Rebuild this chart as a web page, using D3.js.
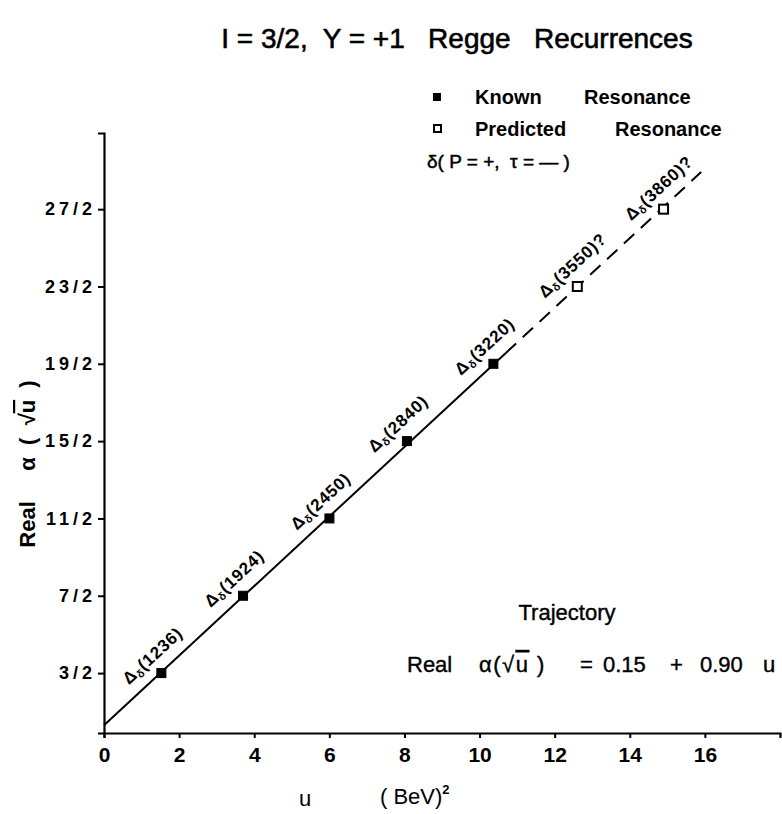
<!DOCTYPE html>
<html>
<head>
<meta charset="utf-8">
<script src="https://cdn.jsdelivr.net/npm/d3@7"></script>
<style>
  html, body { margin: 0; padding: 0; background: #fff; }
  svg { display: block; font-family: "Liberation Sans", Arial, sans-serif; }
  .ovl { text-decoration: overline; }
</style>
</head>
<body>
<div id="chart"></div>
<script>
// Δδ resonances on the I = 3/2, Y = +1 trajectory
const massesMeV = [1236, 1924, 2450, 2840, 3220, 3550, 3860];
const spins     = [1.5, 3.5, 5.5, 7.5, 9.5, 11.5, 13.5];
const known     = [true, true, true, true, true, false, false];

// Linear trajectory Real α = a + b·u
const intercept = 0.15;
const slope = 0.90;
const solidRange  = [0, 10.7];
const dashedRange = [10.7, 15.9];

// Axis ticks
const xTicks = [0, 2, 4, 6, 8, 10, 12, 14, 16];
const yTicks = [1.5, 3.5, 5.5, 7.5, 9.5, 11.5, 13.5];
const yTickLabels = ["3/2", "7/2", "11/2", "15/2", "19/2", "23/2", "27/2"];

const W = 782, H = 814;
const svg = d3.select("#chart").append("svg").attr("width", W).attr("height", H);

const x = d3.scaleLinear().domain([0, 18]).range([104, 780]);
const y = d3.scaleLinear().domain([-0.05, 15.47]).range([733, 133]);

const ink = "#000";

// Title
svg.append("text")
  .attr("x", 457).attr("y", 48)
  .attr("text-anchor", "middle")
  .attr("font-size", 28)
  .attr("fill", ink).attr("stroke", ink).attr("stroke-width", 0.6)
  .attr("xml:space", "preserve")
  .text("I = 3/2,  Y = +1   Regge   Recurrences");

// Axes
const xAxis = d3.axisBottom(x).tickValues(xTicks).tickSize(5).tickFormat(d3.format("d"));
const gx = svg.append("g").attr("transform", `translate(0,${y.range()[0]})`).call(xAxis);
gx.select(".domain").attr("stroke", ink).attr("stroke-width", 2.2);
gx.selectAll(".tick line").attr("stroke", ink).attr("stroke-width", 2);
gx.selectAll(".tick text")
  .attr("font-size", 21).attr("font-weight", "bold")
  .attr("font-family", "Liberation Sans, Arial, sans-serif")
  .attr("fill", ink).attr("dy", "1.0em");

const yAxis = d3.axisLeft(y).tickValues(yTicks).tickSize(6)
  .tickFormat((d, i) => yTickLabels[i]);
const gy = svg.append("g").attr("transform", `translate(${x.range()[0]},0)`).call(yAxis);
gy.select(".domain").attr("stroke", ink).attr("stroke-width", 2.2);
gy.selectAll(".tick line").attr("stroke", ink).attr("stroke-width", 2);
gy.selectAll(".tick text")
  .attr("font-size", 18).attr("font-weight", "bold")
  .attr("letter-spacing", 4)
  .attr("font-family", "Liberation Sans, Arial, sans-serif")
  .attr("fill", ink).attr("x", -8);

// Axis titles
const yTitle = svg.append("text")
  .attr("transform", "translate(35,464) rotate(-90)")
  .attr("text-anchor", "middle")
  .attr("font-size", 22).attr("font-weight", "bold")
  .attr("fill", ink)
  .attr("xml:space", "preserve");
yTitle.append("tspan").text("Real     α  (  √");
yTitle.append("tspan").attr("class", "ovl").text("u");
yTitle.append("tspan").text("  )");

svg.append("text").attr("x", 305).attr("y", 806)
  .attr("text-anchor", "middle").attr("font-size", 22).attr("fill", ink).text("u");
const bev = svg.append("text").attr("x", 380).attr("y", 804)
  .attr("font-size", 22).attr("fill", ink).attr("xml:space", "preserve");
bev.append("tspan").text("( BeV)");
bev.append("tspan").attr("font-size", 13).attr("dy", -10).attr("font-weight", "bold").text("2");

// Trajectory lines
const line = d3.line().x(d => x(d)).y(d => y(intercept + slope * d));
svg.append("path").datum(solidRange).attr("d", line)
  .attr("fill", "none").attr("stroke", ink).attr("stroke-width", 2);
svg.append("path").datum(dashedRange).attr("d", line)
  .attr("fill", "none").attr("stroke", ink).attr("stroke-width", 2)
  .attr("stroke-dasharray", "14,9");

// Resonance points (u = m², GeV²)
const pts = massesMeV.map((m, i) => ({
  m, u: (m / 1000) ** 2, a: spins[i], known: known[i]
}));

const sq = 9;
svg.selectAll("rect.pt").data(pts).join("rect")
  .attr("class", "pt")
  .attr("x", d => x(d.u) - sq / 2).attr("y", d => y(d.a) - sq / 2)
  .attr("width", sq).attr("height", sq)
  .attr("fill", d => d.known ? ink : "#fff")
  .attr("stroke", ink).attr("stroke-width", d => d.known ? 1 : 2);

// Rotated resonance labels along the trajectory
const angle = Math.atan2(y(intercept) - y(intercept + slope), x(1) - x(0)) * 180 / Math.PI;
const lbl = svg.selectAll("text.res").data(pts).join("text")
  .attr("class", "res")
  .attr("transform", d => `translate(${x(d.u)},${y(d.a)}) rotate(${-angle})`)
  .attr("x", -32).attr("y", -13)
  .attr("font-size", 17).attr("font-weight", "bold").attr("letter-spacing", 0.8)
  .attr("fill", ink);
lbl.append("tspan").text("Δ");
lbl.append("tspan").attr("font-size", 11).attr("dy", 3).text("δ");
lbl.append("tspan").attr("dy", -3).text(d => `(${d.m})` + (d.known ? "" : "?"));

// Legend
const lg = svg.append("g").attr("font-size", 20).attr("font-weight", "bold").attr("fill", ink);
lg.append("rect").attr("x", 433).attr("y", 93).attr("width", 8).attr("height", 8).attr("fill", ink);
lg.append("rect").attr("x", 434).attr("y", 125).attr("width", 7).attr("height", 7)
  .attr("fill", "#fff").attr("stroke", ink).attr("stroke-width", 2);
lg.append("text").attr("x", 475).attr("y", 104).text("Known");
lg.append("text").attr("x", 584).attr("y", 104).text("Resonance");
lg.append("text").attr("x", 475).attr("y", 136).text("Predicted");
lg.append("text").attr("x", 615).attr("y", 136).text("Resonance");
lg.append("text").attr("x", 427).attr("y", 168).attr("font-size", 19).attr("font-weight", "normal")
  .attr("stroke", ink).attr("stroke-width", 0.5)
  .attr("xml:space", "preserve").text("δ( P = +,  τ = — )");

// Trajectory formula
const fs = 22;
svg.append("text").attr("x", 567).attr("y", 620).attr("text-anchor", "middle")
  .attr("font-size", fs).attr("fill", ink).attr("stroke", ink).attr("stroke-width", 0.4)
  .text("Trajectory");
const eqParts = [
  { t: "Real", x: 407 },
  { t: "=", x: 580 },
  { t: intercept.toFixed(2), x: 603 },
  { t: "+", x: 670 },
  { t: slope.toFixed(2), x: 700 },
  { t: "u", x: 763 }
];
const eqG = svg.append("g").attr("font-size", fs).attr("fill", ink)
  .attr("stroke", ink).attr("stroke-width", 0.4);
eqG.selectAll("text.eq").data(eqParts).join("text")
  .attr("class", "eq").attr("x", d => d.x).attr("y", 672).text(d => d.t);
const alpha = eqG.append("text").attr("x", 479).attr("y", 672)
  .attr("letter-spacing", 1.5).attr("xml:space", "preserve");
alpha.append("tspan").text("α(√");
alpha.append("tspan").attr("class", "ovl").text("u");
alpha.append("tspan").text(" )");
</script>
</body>
</html>
